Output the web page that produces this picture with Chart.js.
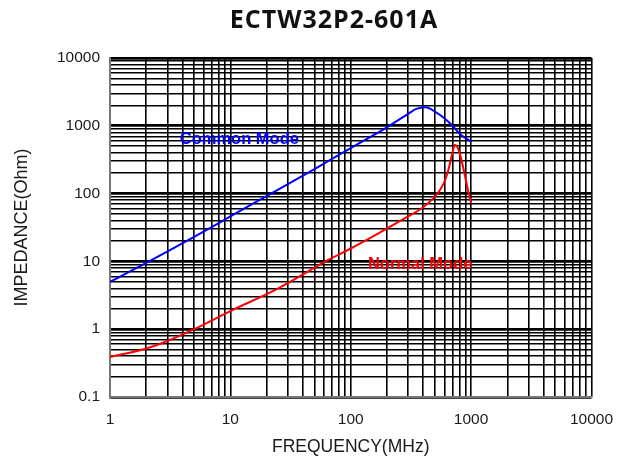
<!DOCTYPE html>
<html>
<head>
<meta charset="utf-8">
<script src="https://cdn.jsdelivr.net/npm/chart.js@4.4.0/dist/chart.umd.min.js"></script>
<style>
html, body { margin: 0; padding: 0; background: #fff; }
</style>
</head>
<body>
<canvas id="chart" width="626" height="461"></canvas>
<script>
// Chart data
const freq_common = [1, 2, 5, 10, 20, 50, 100, 200, 300, 350, 420, 500, 600, 700, 820, 1000];
const imp_common  = [5, 9.5, 23, 46, 92, 230, 470, 950, 1500, 1780, 1880, 1620, 1290, 1000, 740, 590];

const freq_normal = [1, 2, 3, 5, 10, 25, 65, 100, 170, 280, 400, 500, 560, 610, 650, 690, 720, 735, 1000];
const imp_normal  = [0.39, 0.52, 0.67, 1.0, 1.85, 4.0, 10.5, 15.5, 26, 43, 63, 90, 118, 160, 230, 360, 490, 525, 72];

const x_decades = [1, 10, 100, 1000, 10000];
const y_decades = [0.1, 1, 10, 100, 1000, 10000];

const chart_title = 'ECTW32P2-601A';

// labels inside the plot: [text, freq, impedance, colour]
const curve_labels = [
    ['Common Mode', 3.8, 620, '#0000ff'],
    ['Normal Mode', 139, 8.9, '#ff0000']
];

//utils
function toPoints(xs, ys) {
    return xs.map((x, i) => ({x: x, y: ys[i]}));
}
function logGrid(decades) {
    // 1..9 steps inside every decade, plus the last decade
    const out = [];
    for (let i = 0; i < decades.length - 1; i++) {
        for (let k = 1; k < 10; k++) out.push(+(decades[i] * k).toPrecision(6));
    }
    out.push(decades[decades.length - 1]);
    return out;
}
function isDecade(v) {
    const l = Math.log10(v);
    return Math.abs(l - Math.round(l)) < 1e-6;
}

const font_family = "'Liberation Sans', Arial, sans-serif";

// title sits a bit right of the plot centre in the picture, so it is drawn by hand
const titlePlugin = {
    id: 'topTitle',
    afterDraw(chart) {
        const ctx = chart.ctx;
        ctx.save();
        ctx.font = "bold 25px 'Open Sans', sans-serif";
        ctx.letterSpacing = '1px';
        ctx.fillStyle = '#111';
        ctx.textAlign = 'center';
        ctx.textBaseline = 'middle';
        ctx.fillText(chart_title, 334, 21);
        ctx.restore();
    }
};

// draws the "Common Mode" / "Normal Mode" texts at data positions
const curveLabelPlugin = {
    id: 'curveLabels',
    afterDatasetsDraw(chart) {
        const ctx = chart.ctx;
        ctx.save();
        ctx.font = 'bold 16.5px ' + font_family;
        ctx.textBaseline = 'middle';
        ctx.textAlign = 'left';
        curve_labels.forEach(([txt, fx, fy, col]) => {
            ctx.fillStyle = col;
            ctx.fillText(txt, chart.scales.x.getPixelForValue(fx), chart.scales.y.getPixelForValue(fy));
        });
        ctx.restore();
    }
};

const chart = document.querySelector('#chart').getContext('2d');
const chartobj = new Chart(chart, {
    type: 'line',
    data: {
        datasets: [
            {
                label: 'Common Mode',
                data: toPoints(freq_common, imp_common),
                borderColor: '#0000ff',
                borderWidth: 2,
                pointRadius: 0,
                cubicInterpolationMode: 'monotone'
            },
            {
                label: 'Normal Mode',
                data: toPoints(freq_normal, imp_normal),
                borderColor: '#ff0000',
                borderWidth: 2,
                pointRadius: 0,
                cubicInterpolationMode: 'monotone'
            }
        ]
    },
    options: {
        responsive: false,
        animation: false,
        layout: { padding: { left: 0, right: 31, top: 58, bottom: 0 } },
        plugins: {
            legend: { display: false },
            tooltip: { enabled: false },
            title: { display: false }
        },
        scales: {
            x: {
                type: 'logarithmic',
                min: 1,
                max: 10000,
                afterBuildTicks: (s) => { s.ticks = logGrid(x_decades).map(v => ({value: v})); },
                afterFit: (s) => { s.height = 64; },
                ticks: {
                    autoSkip: false,
                    maxRotation: 0,
                    padding: 13,
                    color: '#1a1a1a',
                    font: { family: font_family, size: 15.5 },
                    callback: (v) => isDecade(v) ? String(v) : ''
                },
                grid: {
                    drawTicks: false,
                    color: '#000',
                    lineWidth: 1.6
                },
                border: { display: true, color: '#777', width: 2 },
                title: {
                    display: true,
                    text: 'FREQUENCY(MHz)',
                    color: '#1a1a1a',
                    font: { family: font_family, size: 17.5 },
                    padding: { top: 0, bottom: 3 }
                }
            },
            y: {
                type: 'logarithmic',
                min: 0.1,
                max: 10000,
                afterBuildTicks: (s) => { s.ticks = logGrid(y_decades).map(v => ({value: v})); },
                afterFit: (s) => { s.width = 110; },
                ticks: {
                    autoSkip: false,
                    padding: 10,
                    color: '#1a1a1a',
                    font: { family: font_family, size: 15.5 },
                    callback: (v) => isDecade(v) ? String(v) : ''
                },
                grid: {
                    drawTicks: false,
                    color: '#000',
                    lineWidth: (c) => (c.tick && isDecade(c.tick.value)) ? 2.8 : 1.6
                },
                border: { display: true, color: '#777', width: 2 },
                title: {
                    display: true,
                    text: 'IMPEDANCE(Ohm)',
                    color: '#1a1a1a',
                    font: { family: font_family, size: 18 },
                    padding: { top: 11, bottom: 0 }
                }
            }
        }
    },
    plugins: [curveLabelPlugin, titlePlugin]
});
</script>
</body>
</html>
